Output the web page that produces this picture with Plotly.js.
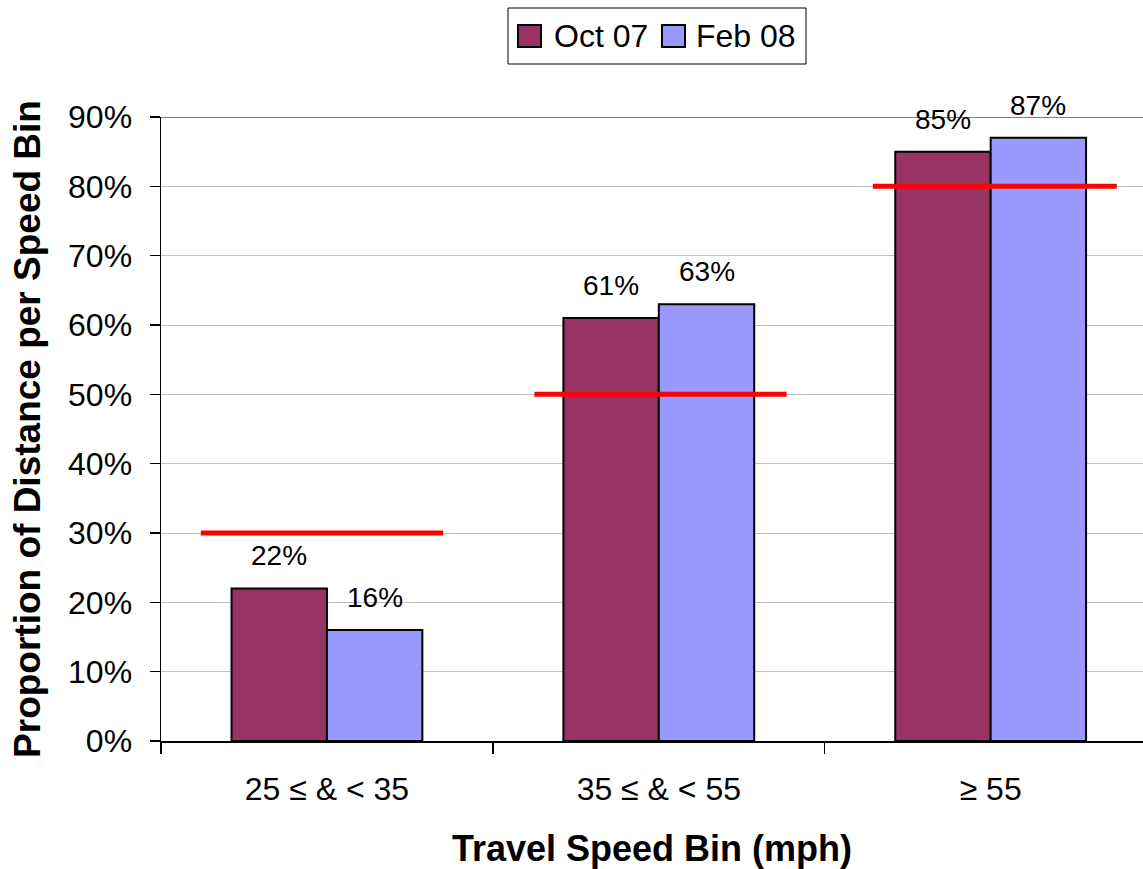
<!DOCTYPE html>
<html>
<head>
<meta charset="utf-8">
<script src="https://cdn.plot.ly/plotly-3.0.1.min.js"></script>
<style>
  html, body { margin: 0; padding: 0; background: #ffffff; }
  #chart { width: 1143px; height: 869px; }
</style>
</head>
<body>
<div id="chart"></div>
<script>
// ---- data ----
const categories = ["25 \u2264 & < 35", "35 \u2264 & < 55", "\u2265 55"];
const seriesNames = ["Oct 07", "Feb 08"];
const oct07 = [22, 61, 85];
const feb08 = [16, 63, 87];
const targets = [30, 50, 80];
const yTicks = [0, 10, 20, 30, 40, 50, 60, 70, 80, 90];

// ---- style / layout constants ----
const FONT = "Liberation Sans, Arial, Helvetica, sans-serif";
const colors = ["#993366", "#9999FF"];
const W = 1143, H = 869;
const M = { l: 161, r: 0, t: 117, b: 128 };
const plotW = W - M.l - M.r, plotH = H - M.t - M.b;
const px = x => (x - M.l) / plotW;          // pixel -> paper x
const py = y => (H - M.b - y) / plotH;      // pixel -> paper y
const barHalf = 0.144;                      // half bar width in category units
const targetSpan = [[-0.38, 0.35], [-0.375, 0.385], [-0.355, 0.38]];

const seriesValues = [oct07, feb08];

const traces = seriesValues.map((vals, k) => ({
  type: "bar",
  name: seriesNames[k],
  x: categories,
  y: vals,
  marker: { color: colors[k], line: { color: "#000000", width: 2 } },
  showlegend: false,
  hoverinfo: "x+y+name"
}));

const shapes = [];
const annotations = [];

// target lines
targets.forEach((t, i) => {
  shapes.push({
    type: "line", xref: "x", yref: "y",
    x0: i + targetSpan[i][0], x1: i + targetSpan[i][1], y0: t, y1: t,
    line: { color: "#FF0000", width: 5 }
  });
});

// top border of plot area
shapes.push({
  type: "line", xref: "paper", yref: "y", x0: 0, x1: 1, y0: 90, y1: 90,
  line: { color: "#808080", width: 2 }, layer: "below"
});

// data labels
seriesValues.forEach((vals, k) => {
  vals.forEach((v, i) => {
    annotations.push({
      xref: "x", yref: "y",
      x: i + (k === 0 ? -barHalf : barHalf), y: v,
      text: v + "%", showarrow: false,
      yanchor: "bottom", xanchor: "center", yshift: 15,
      font: { family: FONT, size: 28, color: "#000000" }
    });
  });
});

// custom legend (box, swatches, labels)
shapes.push({
  type: "rect", xref: "paper", yref: "paper",
  x0: px(508), x1: px(806), y0: py(64), y1: py(8),
  line: { color: "#000000", width: 1 }, fillcolor: "#ffffff"
});
const legendItems = [
  { sw: [518, 541], tx: 552 },
  { sw: [662, 685], tx: 694 }
];
legendItems.forEach((it, k) => {
  shapes.push({
    type: "rect", xref: "paper", yref: "paper",
    x0: px(it.sw[0]), x1: px(it.sw[1]), y0: py(47), y1: py(25),
    line: { color: "#000000", width: 2 }, fillcolor: colors[k]
  });
  annotations.push({
    xref: "paper", yref: "paper", x: px(it.tx), y: py(36.5),
    xanchor: "left", yanchor: "middle", showarrow: false,
    text: seriesNames[k],
    font: { family: FONT, size: 32, color: "#000000" }
  });
});

const layout = {
  width: W, height: H,
  margin: M,
  paper_bgcolor: "#ffffff",
  plot_bgcolor: "#ffffff",
  font: { family: FONT, color: "#000000" },
  barmode: "group",
  bargap: 0.425,
  bargroupgap: 0,
  showlegend: false,
  xaxis: {
    type: "category",
    range: [-0.5, 2.459],
    tickson: "boundaries",
    ticks: "outside", ticklen: 11, tickcolor: "#000000", tickwidth: 1.5,
    showline: true, linecolor: "#000000", linewidth: 1.5,
    showgrid: false, zeroline: false,
    tickfont: { family: FONT, size: 32, color: "#000000" },
    ticklabelstandoff: 19,
    title: { text: "<b>Travel Speed Bin (mph)</b>", font: { family: FONT, size: 36, color: "#000000" }, standoff: 32 }
  },
  yaxis: {
    range: [0, 90],
    tickvals: yTicks,
    ticktext: yTicks.map(v => v + "%"),
    ticks: "outside", ticklen: 10, tickcolor: "#000000", tickwidth: 1.5,
    showline: true, linecolor: "#000000", linewidth: 1.5,
    showgrid: true, gridcolor: "#c0c0c0", gridwidth: 1,
    zeroline: false,
    tickfont: { family: FONT, size: 32, color: "#000000" },
    ticklabelstandoff: 11,
    title: { text: "<b>Proportion of Distance per Speed Bin</b>", font: { family: FONT, size: 37, color: "#000000" }, standoff: 16 }
  },
  shapes: shapes,
  annotations: annotations
};

Plotly.newPlot("chart", traces, layout, { displayModeBar: false, staticPlot: true });
</script>
</body>
</html>
